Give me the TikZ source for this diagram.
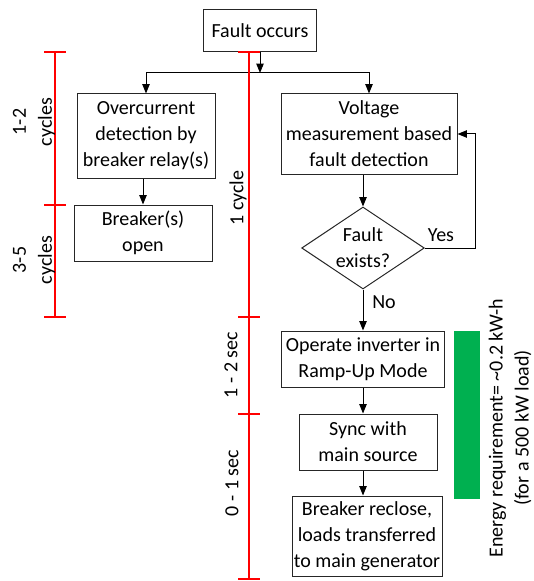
\documentclass[tikz,border=0pt]{standalone}
\usepackage{fontspec}
\setmainfont{Carlito}
\usetikzlibrary{shapes.geometric, arrows.meta}

\definecolor{barGreen}{HTML}{00B050}
\definecolor{lineRed}{HTML}{FF0000}

\begin{document}
\begin{tikzpicture}[
    x=0.75pt, y=-0.75pt,
    >={Triangle[length=7pt,width=5.5pt]},
    font=\fontsize{15}{19.5}\selectfont,
    box/.style={
        draw=black!85,
        line width=0.75pt,
        inner sep=0pt,
        align=center
    },
    decision/.style={
        box,
        diamond,
        aspect=1.5,
        minimum width=92pt,
        minimum height=61.5pt
    },
    arrow/.style={
        ->,
        line width=0.75pt
    },
    timeline/.style={
        draw=lineRed,
        line width=1.5pt
    },
    span/.style={
        rotate=90,
        align=center
    }]

\useasboundingbox (0,0) rectangle (533,581);

% Start
\node[box, minimum width=84.75pt, minimum height=31.5pt] (fault) at (260,31)
{Fault occurs};

\coordinate (split) at (260,73);


% Linker tak
\node[box, minimum width=103.5pt, minimum height=63pt] (overcurrent) at (146,136)
{Overcurrent\\
detection by\\
breaker relay(s)};

\node[box, minimum width=103.5pt, minimum height=42pt] (open) at (143,233)
{Breaker(s)\\
open};


% Rechter tak
\node[box, minimum width=132pt, minimum height=60pt] (voltage) at (369,134)
{Voltage\\
measurement based\\
fault detection};

\node[decision] (exists) at (363,248)
{Fault\\
exists?};

\node[box, minimum width=122.25pt, minimum height=42pt] (operate) at (363,359)
{Operate inverter in\\
Ramp-Up Mode};

\node[box, minimum width=103.5pt, minimum height=42pt] (sync) at (368,442)
{Sync with\\
main source};

\node[box, minimum width=112.5pt, minimum height=60pt] (reclose) at (367,536)
{Breaker reclose,\\
loads transferred\\
to main generator};

\coordinate (loop) at (475,248);


% Pijlen
\draw[arrow] (fault.south) -- (split);

\draw[arrow] (split) -| (overcurrent.north);

\draw[arrow] (split) -| (voltage.north);

\draw[arrow] (open |- overcurrent.south) -- (open);

\draw[arrow] (exists |- voltage.south) -- (exists);

\draw[arrow] (exists.east) -- (loop) |- (voltage.east);

\draw[arrow] (exists) -- (operate);

\draw[arrow] (operate.south) -- (operate |- sync.north);

\draw[arrow] (sync.south -| operate) -- (operate |- reclose.north);

\node (yes) at (441,235) {Yes};

\node (no) at (384,302) {No};


% Tijdlijnen
\coordinate (leftTop) at (55,52);
\coordinate (leftMid) at (55,205);
\coordinate (leftEnd) at (55,317);

\coordinate (rightTop) at (249,52);
\coordinate (rightA) at (249,317);
\coordinate (rightB) at (249,414);
\coordinate (rightEnd) at (249,579);

\draw[timeline] (leftTop) -- (leftEnd);

\draw[timeline] (rightTop) -- (rightEnd);

\foreach \t in {leftTop, leftMid, leftEnd, rightTop, rightA, rightB, rightEnd}
    \draw[timeline] (\t) ++(-11,0) -- ++(22,0);

\node[span] (spanA) at (34,122) {1-2\\cycles};

\node[span] (spanB) at (34,260) {3-5\\cycles};

\node[span] (spanC) at (238,198) {1 cycle};

\node[span] (spanD) at (231,365) {1 - 2 sec};

\node[span] (spanE) at (232,483) {0 - 1 sec};


% Energie
\fill[barGreen] (454,331) rectangle (480,499);

\node[span] (energy) at (510,428)
{Energy requirement= \textasciitilde0.2 kW-h\\
(for a 500 kW load)};

\end{tikzpicture}
\end{document}
